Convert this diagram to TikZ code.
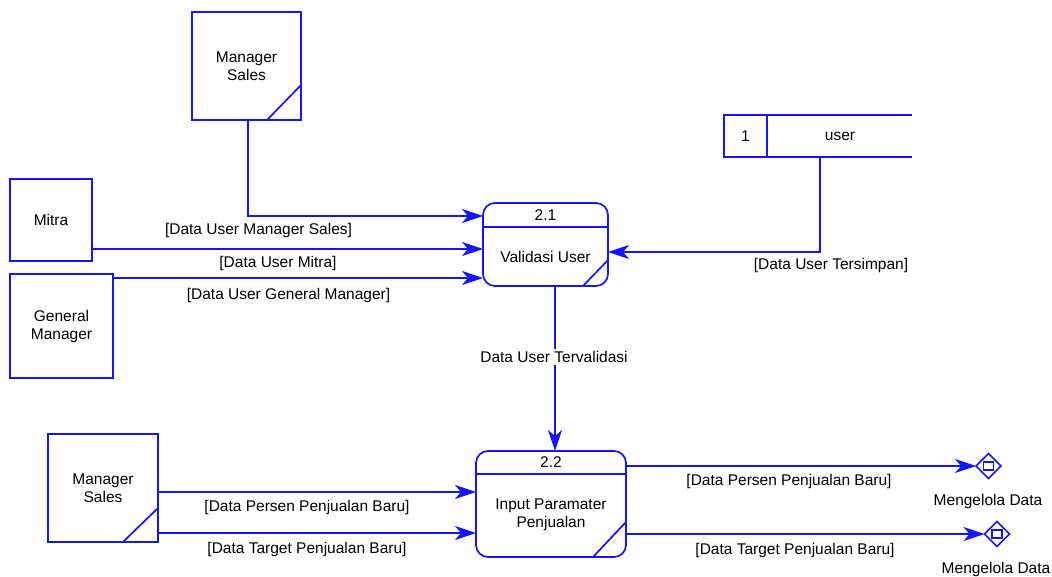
\documentclass[tikz,border=0pt]{standalone}
\usepackage{fontspec}
\setmainfont{Liberation Sans}
\usetikzlibrary{arrows.meta,shapes.geometric}
\definecolor{dfdblue}{RGB}{20,20,255}
\begin{document}
\begin{tikzpicture}[x=1pt,y=-1pt,
  every node/.style={inner sep=0pt,outer sep=0pt,
    font=\fontsize{15.5}{18}\selectfont,align=center},
  line/.style={draw=dfdblue,line width=1.7pt},
  flow/.style={line,-{Stealth[length=21pt,width=14pt,inset=6pt]}},
  entity/.style={line,rectangle},
  process/.style={line,rectangle,rounded corners=12pt,
    minimum width=125pt,minimum height=83pt},
  sink/.style={line,diamond,minimum width=25pt,minimum height=25pt,fill=white},
  lbl/.style={fill=none}]
\useasboundingbox (0,0) rectangle (1052,577);

% external entities
\node[entity,minimum width=109pt,minimum height=108pt] (ms1) at (246.5,66) {Manager\\ Sales};
\draw[line] ([xshift=-34pt]ms1.south east) -- ([yshift=35pt]ms1.south east);
\node[entity,minimum width=82pt,minimum height=82pt] (mitra) at (51,220) {Mitra};
\node[entity,minimum width=103pt,minimum height=104pt] (gm) at (61.5,326) {General\\ Manager};
\node[entity,minimum width=110pt,minimum height=108pt] (ms2) at (103,488) {Manager\\ Sales};
\draw[line] ([xshift=-35pt]ms2.south east) -- ([yshift=34pt]ms2.south east);

% processes
\node[process] (p21) at (545.5,244.5) {};
\draw[line] ([yshift=-24pt]p21.north west) -- ([yshift=-24pt]p21.north east);
\draw[line] ([xshift=-25pt]p21.south east) -- ([yshift=26pt]p21.south east);
\node (p21id) at (545.5,215) {2.1};
\node (p21t) at (545.5,257) {Validasi User};

\node[process,minimum width=150pt,minimum height=106pt] (p22) at (551,504) {};
\draw[line] ([yshift=-23pt]p22.north west) -- ([yshift=-23pt]p22.north east);
\draw[line] ([xshift=-33pt]p22.south east) -- ([yshift=35pt]p22.south east);
\node (p22id) at (551,462.5) {2.2};
\node (p22t) at (551,515) {Input Paramater\\ Penjualan};

% data store
\node[minimum width=188pt,minimum height=42pt] (store) at (818,136) {};
\draw[line] (store.north east) -- (store.north west) -- (store.south west) -- (store.south east);
\draw[line] ([xshift=43pt]store.north west) -- ([xshift=43pt]store.south west);
\node (storeid) at (745.5,136) {1};
\node (storet) at (840,136) {user};

% sinks
\node[sink] (out1) at (988.5,466) {};
\node[line,minimum width=10pt,minimum height=8pt] (out1b) at (out1.center) {};
\node[sink] (out2) at (997,534) {};
\node[line,minimum width=10pt,minimum height=8pt] (out2b) at (out2.center) {};
\node (out1t) at (988,501) {Mengelola Data};
\node (out2t) at (996,569) {Mengelola Data};

% flows into 2.1
\draw[flow] ([xshift=1.5pt]ms1.south) |- ([yshift=28.5pt]p21.west);
\draw[flow] ([yshift=-29pt]mitra.east) -- ([yshift=-4.5pt]p21.west);
\draw[flow] ([yshift=-4pt]gm.north east) -- ([yshift=-33.5pt]p21.west);
\draw[flow] ([xshift=2pt]store.south) |- ([yshift=-7.5pt]p21.east);
\node[lbl] (f1) at (258.5,230) {[Data User Manager Sales]};
\node[lbl] (f2) at (278,263) {[Data User Mitra]};
\node[lbl] (f3) at (288.5,295) {[Data User General Manager]};
\node[lbl] (f4) at (831,265) {[Data User Tersimpan]};

% 2.1 to 2.2
\draw[flow] ([xshift=9.5pt]p21.south) -- ([xshift=4pt]p22.north);
\node[fill=white,inner sep=2pt] (f5) at (554,357) {Data User Tervalidasi};

% flows into 2.2
\draw[flow] ([yshift=-4pt]ms2.east) -- ([yshift=12pt]p22.west);
\draw[flow] ([yshift=-45pt]ms2.east) -- ([yshift=-29pt]p22.west);
\node[lbl] (f6) at (307,507) {[Data Persen Penjualan Baru]};
\node[lbl] (f7) at (307,549) {[Data Target Penjualan Baru]};

% flows out of 2.2
\draw[flow] ([yshift=38pt]p22.east) -- (out1.west);
\draw[flow] ([yshift=-30pt]p22.east) -- (out2.west);
\node[lbl] (f8) at (789,481) {[Data Persen Penjualan Baru]};
\node[lbl] (f9) at (795,550) {[Data Target Penjualan Baru]};
\end{tikzpicture}
\end{document}
